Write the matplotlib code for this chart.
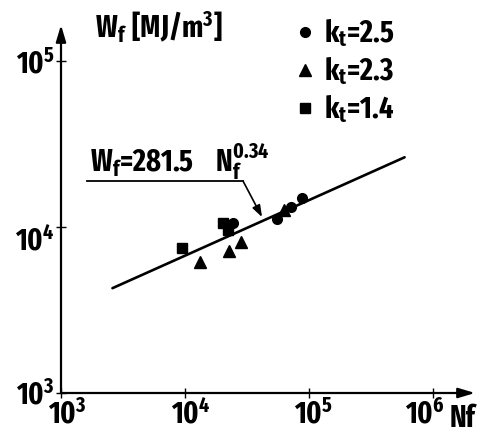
import os
import matplotlib
matplotlib.use("Agg")
import matplotlib.pyplot as plt
from matplotlib import font_manager as fm
from matplotlib.transforms import ScaledTranslation

# ---- pick the narrowest bold condensed font available ----
cands = []
for f in fm.fontManager.ttflist:
    fn = os.path.basename(f.fname).lower()
    if f.weight not in (700, 'bold'):
        continue
    if 'italic' in fn or 'oblique' in fn:
        continue
    score = None
    if 'extracondensed' in fn:
        score = 0
    elif 'narrow' in fn:
        score = 1
    elif 'semicondensed' in fn:
        score = 3
    elif 'condensed' in fn:
        score = 2
    if score is not None:
        cands.append((score, f.fname))
cands.sort()
if cands:
    fm.fontManager.ttflist.append(fm.FontEntry(fname=cands[0][1], name='CondBoldX', style='normal',
                                               variant='normal', weight=700, stretch='normal',
                                               size='scalable'))
    fam = 'CondBoldX'
    FS = 22
else:
    fam = 'DejaVu Sans'
    FS = 15

plt.rcParams['font.family'] = [fam, 'DejaVu Sans']
plt.rcParams['font.weight'] = 'bold'
plt.rcParams['mathtext.fontset'] = 'custom'
plt.rcParams['mathtext.rm'] = f'{fam}:bold'
plt.rcParams['mathtext.it'] = f'{fam}:bold'
plt.rcParams['mathtext.bf'] = f'{fam}:bold'

# ---- data ----
kt25_N = [24300, 55200, 71600, 87300]
kt25_W = [10500, 11170, 13150, 14900]
kt23_N = [13300, 22700, 28300, 62500]
kt23_W = [6180, 7200, 8150, 12650]
kt14_N = [9400, 20100, 22300]
kt14_W = [7450, 10520, 9600]
fit_N = [2600, 590000]
fit_W = [4280, 26300]
legend_labels = [r'$\mathregular{k_t}$=2.5', r'$\mathregular{k_t}$=2.3', r'$\mathregular{k_t}$=1.4']
xticks = [1e3, 1e4, 1e5, 1e6]
xticklabels = [r'$\mathregular{10^3}$', r'$\mathregular{10^4}$', r'$\mathregular{10^5}$', r'$\mathregular{10^6}$']
yticks = [1e3, 1e4, 1e5]
yticklabels = [r'$\mathregular{10^3}$', r'$\mathregular{10^4}$', r'$\mathregular{10^5}$']

W, H = 483, 437
fig = plt.figure(figsize=(W / 100, H / 100), dpi=100)
ax = fig.add_axes([61 / W, 44 / H, 414 / W, 368 / H])
ax.set_xscale('log')
ax.set_yscale('log')
ax.set_xlim(1e3, 10 ** (3 + 414 / 124))
ax.set_ylim(1e3, 10 ** (3 + 368 / 166))

for s in ax.spines.values():
    s.set_visible(False)

# axes with arrows
arrow_style = '-|>,head_length=1.0,head_width=0.3'
ax.annotate('', xy=(1, 0), xytext=(0, 0), xycoords='axes fraction',
            arrowprops=dict(arrowstyle=arrow_style, color='black', lw=1.6, shrinkA=0, shrinkB=0))
ax.annotate('', xy=(0, 1), xytext=(0, 0), xycoords='axes fraction',
            arrowprops=dict(arrowstyle=arrow_style, color='black', lw=1.6, shrinkA=0, shrinkB=0))

ax.set_xticks(xticks)
ax.set_xticklabels(xticklabels)
ax.set_yticks(yticks)
ax.set_yticklabels(yticklabels)
ax.minorticks_off()
ax.tick_params(axis='both', direction='inout', length=7, width=1.0, labelsize=FS, pad=1)

# label nudges (pixels) to mimic the hand lettering
x_nudge = [6, 6, 5, -8]
for lbl, dx in zip(ax.get_xticklabels(), x_nudge):
    lbl.set_transform(lbl.get_transform() + ScaledTranslation(dx / 100, 0, fig.dpi_scale_trans))
y_nudge = [0, -12, 0]
for lbl, dy in zip(ax.get_yticklabels(), y_nudge):
    lbl.set_transform(lbl.get_transform() + ScaledTranslation(0, dy / 100, fig.dpi_scale_trans))

ax.plot(fit_N, fit_W, color='black', lw=1.9, solid_capstyle='round')
ax.plot(kt25_N, kt25_W, 'o', color='black', ms=7, label=legend_labels[0], clip_on=False)
ax.plot(kt23_N, kt23_W, '^', color='black', ms=8.5, label=legend_labels[1], clip_on=False)
ax.plot(kt14_N, kt14_W, 's', color='black', ms=6.5, label=legend_labels[2], clip_on=False)

leg = ax.legend(loc='upper left', bbox_to_anchor=(296 / W, 1 - 17 / H), bbox_transform=fig.transFigure,
                frameon=False, fontsize=FS, handlelength=0.6, handletextpad=0.3, labelspacing=0.2,
                borderaxespad=0, borderpad=0)

# fit annotation
ax.plot([1620, 29400], [18900, 18900], color='black', lw=1.3)
ax.annotate('', xy=(41800, 11480), xytext=(29400, 18900),
            arrowprops=dict(arrowstyle='-|>,head_length=0.7,head_width=0.25', color='black', lw=1.2,
                            shrinkA=0, shrinkB=0))
ax.text(1700, 10 ** 4.33, r'$\mathregular{W_f}$=281.5    $\mathregular{N_f^{0.34}}$', fontsize=FS,
        ha='left', va='baseline')

fig.text(95 / W, 1 - 38 / H, r'$\mathregular{W_f\ [MJ/m^3]}$', fontsize=FS, ha='left', va='baseline')
fig.text(450 / W, 1 - 427 / H, 'Nf', fontsize=FS, ha='left', va='baseline')

fig.savefig('out.png', dpi=100)
